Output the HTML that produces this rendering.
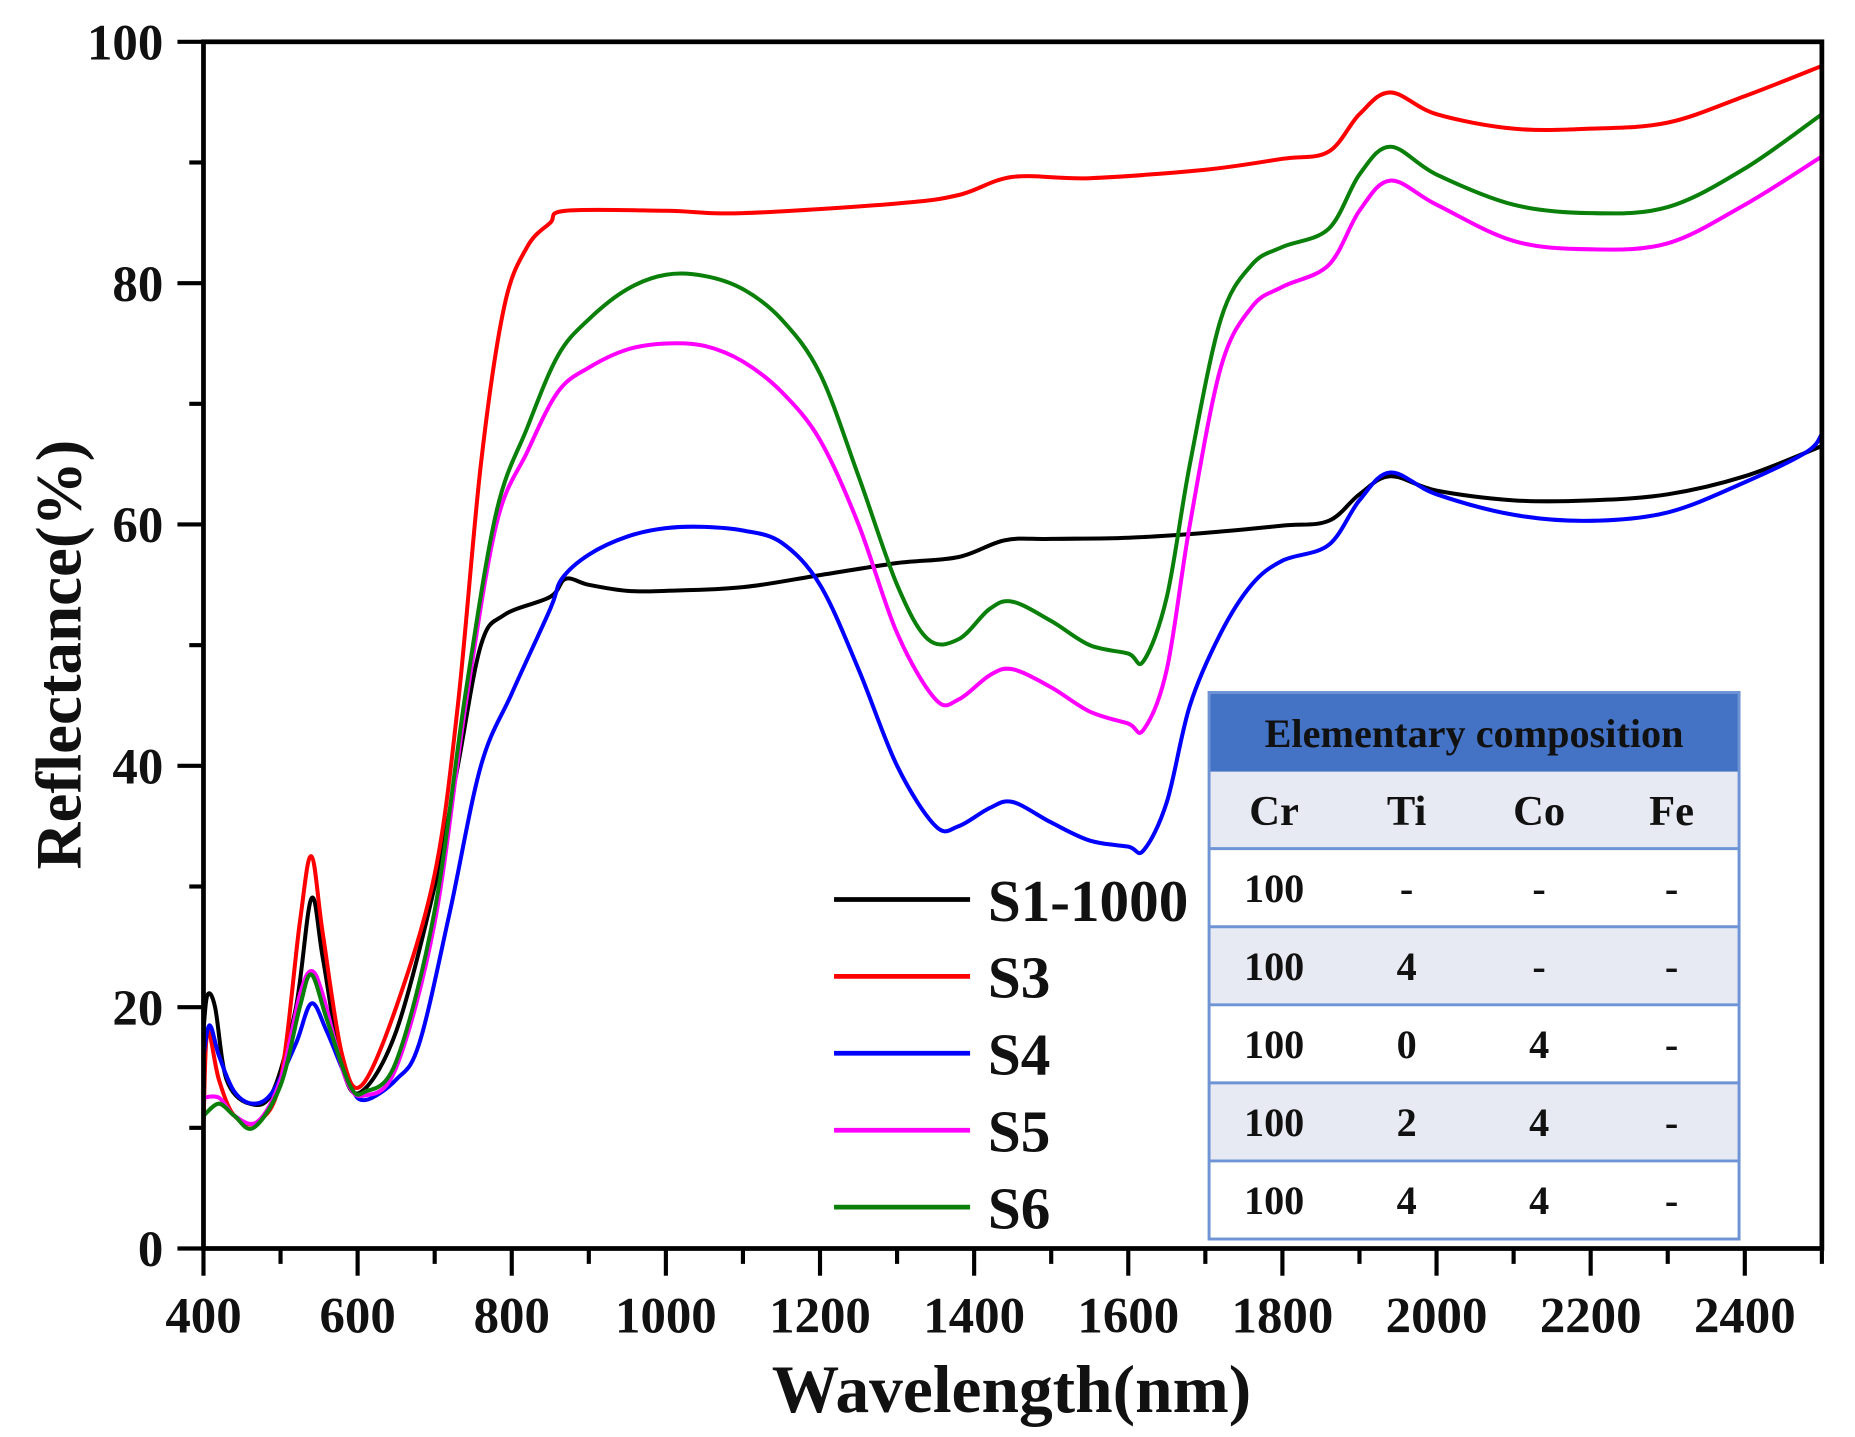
<!DOCTYPE html>
<html><head><meta charset="utf-8"><style>
html,body{margin:0;padding:0;background:#fff;}
svg{display:block;}
text{font-family:"Liberation Serif",serif;font-weight:bold;fill:#111;}
</style></head><body>
<svg id="s" width="1855" height="1437" viewBox="0 0 1568 1214" xmlns="http://www.w3.org/2000/svg">
<rect x="0" y="0" width="1568" height="1214" fill="#fff"/>
<g id="curves" fill="none" stroke-width="3.4" stroke-linejoin="round"></g>
<g>
<rect x="1022" y="585" width="448" height="67" fill="#4472c4"/>
<rect x="1022" y="652" width="448" height="65" fill="#e8eaf3"/>
<rect x="1022" y="717" width="448" height="66" fill="#fff"/>
<rect x="1022" y="783" width="448" height="66" fill="#e8eaf3"/>
<rect x="1022" y="849" width="448" height="66" fill="#fff"/>
<rect x="1022" y="915" width="448" height="66" fill="#e8eaf3"/>
<rect x="1022" y="981" width="448" height="66" fill="#fff"/>
<g stroke="#6f94d6" stroke-width="2.5" fill="none">
<rect x="1022" y="585" width="448" height="462"/>
<line x1="1022" y1="717" x2="1470" y2="717"/>
<line x1="1022" y1="783" x2="1470" y2="783"/>
<line x1="1022" y1="849" x2="1470" y2="849"/>
<line x1="1022" y1="915" x2="1470" y2="915"/>
<line x1="1022" y1="981" x2="1470" y2="981"/>
</g>
<text x="1246" y="631" font-size="34" text-anchor="middle">Elementary composition</text>
<g font-size="36" text-anchor="middle">
<text x="1077" y="697">Cr</text><text x="1189" y="697">Ti</text><text x="1301" y="697">Co</text><text x="1413" y="697">Fe</text>
</g>
<g font-size="34" text-anchor="middle">
<text x="1077" y="762">100</text><text x="1189" y="762">-</text><text x="1301" y="762">-</text><text x="1413" y="762">-</text>
<text x="1077" y="828">100</text><text x="1189" y="828">4</text><text x="1301" y="828">-</text><text x="1413" y="828">-</text>
<text x="1077" y="894">100</text><text x="1189" y="894">0</text><text x="1301" y="894">4</text><text x="1413" y="894">-</text>
<text x="1077" y="960">100</text><text x="1189" y="960">2</text><text x="1301" y="960">4</text><text x="1413" y="960">-</text>
<text x="1077" y="1026">100</text><text x="1189" y="1026">4</text><text x="1301" y="1026">4</text><text x="1413" y="1026">-</text>
</g>
</g>
<g stroke-width="4">
<line x1="705" y1="760" x2="820" y2="760" stroke="#000"/>
<line x1="705" y1="825" x2="820" y2="825" stroke="#f00"/>
<line x1="705" y1="890" x2="820" y2="890" stroke="#00f"/>
<line x1="705" y1="955" x2="820" y2="955" stroke="#f0f"/>
<line x1="705" y1="1020" x2="820" y2="1020" stroke="#0a800a"/>
</g>
<g font-size="50">
<text x="835" y="778">S1-1000</text>
<text x="835" y="843">S3</text>
<text x="835" y="908">S4</text>
<text x="835" y="973">S5</text>
<text x="835" y="1038">S6</text>
</g>
<g stroke="#000" stroke-width="4" fill="none">
<rect x="172" y="35" width="1368" height="1020"/>
</g>
<g id="ticks" stroke="#000" stroke-width="3.5"></g>
<g font-size="43" text-anchor="end" id="ylab"></g>
<g font-size="43" text-anchor="middle" id="xlab"></g>
<text x="855" y="1193" font-size="57" text-anchor="middle">Wavelength(nm)</text>
<text transform="translate(68,553) rotate(-90)" font-size="55" text-anchor="middle">Reflectance(%)</text>
</svg>
<script>
const X=v=>172+(v-400)*1368/2100, Y=v=>1055-v*10.2;
const NS="http://www.w3.org/2000/svg";
function el(p,t,a,txt){const e=document.createElementNS(NS,t);for(const k in a)e.setAttribute(k,a[k]);if(txt!=null)e.textContent=txt;p.appendChild(e);return e;}
const tk=document.getElementById('ticks');
for(let v=400;v<=2500;v+=100){const x=X(v);el(tk,'line',{x1:x,y1:1055,x2:x,y2:v%200==0?1078:1068});}
for(let v=0;v<=100;v+=10){const y=Y(v);el(tk,'line',{x1:172,y1:y,x2:v%20==0?150:160,y2:y});}
const yl=document.getElementById('ylab');
for(let v=0;v<=100;v+=20)el(yl,'text',{x:138,y:Y(v)+15},v);
const xl=document.getElementById('xlab');
for(let v=400;v<=2400;v+=200)el(xl,'text',{x:X(v),y:1126},v);
const D={
"#000":[[400,18],[405,21],[415,20],[430,14],[460,12],[490,13],[520,20],[540,29],[555,24],[580,15],[605,13],[650,18],[700,30],[730,40],[760,50],[790,52.5],[850,54],[870,55.5],[900,55],[950,54.5],[1000,54.5],[1100,54.8],[1200,55.8],[1300,56.8],[1380,57.3],[1440,58.7],[1500,58.8],[1600,58.9],[1700,59.3],[1800,59.9],[1860,60.3],[1900,62.5],[1940,64],[2000,62.8],[2100,62],[2200,62],[2300,62.5],[2400,64],[2500,66.5]],
"#f00":[[400,10],[405,18],[420,14],[440,11],[470,10.5],[500,14],[525,27],[540,32.5],[555,26],[580,16],[605,13.5],[650,20],[700,31],[730,45],[760,65],[790,78],[820,83],[850,85],[870,86],[1000,86],[1100,85.8],[1300,86.6],[1380,87.3],[1450,88.8],[1550,88.7],[1700,89.4],[1800,90.3],[1860,90.9],[1900,94],[1940,95.8],[2000,94],[2100,92.8],[2200,92.8],[2300,93.3],[2400,95.5],[2500,98]],
"#00f":[[400,16],[408,18.5],[420,16],[440,13],[465,12],[490,13],[520,17],[540,20.3],[560,18],[590,13.5],[610,12.3],[650,14],[680,17],[720,28],[760,40],[800,46],[850,53],[865,55.5],[900,57.5],[950,59],[1000,59.7],[1050,59.8],[1100,59.5],[1150,58.5],[1200,55],[1250,48],[1300,40],[1350,35],[1380,35],[1420,36.5],[1450,37],[1500,35.3],[1550,33.8],[1600,33.3],[1620,33],[1650,37],[1680,45],[1720,51],[1760,55],[1800,57],[1860,58.3],[1900,62],[1940,64.3],[2000,62.5],[2100,60.8],[2200,60.3],[2300,61],[2400,63.5],[2480,66],[2500,67.5]],
"#f0f":[[400,12.5],[420,12.5],[440,11],[470,10.5],[500,14],[525,21],[540,23],[555,21],[585,14],[610,12.7],[650,15],[700,27],[740,45],[780,60],[820,66],[860,71],[900,73],[950,74.5],[1000,75],[1050,74.8],[1100,73.5],[1150,71],[1200,67],[1250,60],[1300,51],[1350,45.5],[1380,45.5],[1420,47.5],[1450,48],[1500,46.5],[1550,44.5],[1600,43.5],[1620,43],[1650,48],[1680,60],[1720,73],[1760,78],[1800,79.7],[1860,81.5],[1900,86],[1940,88.5],[2000,86.5],[2100,83.5],[2200,82.8],[2300,83.3],[2400,86.5],[2500,90.5]],
"#0a800a":[[400,11],[420,12],[440,11],[465,10],[500,13.5],[525,20],[540,22.7],[560,19],[590,13.5],[610,13],[650,15.5],[700,28],[740,46],[780,61],[820,68],[860,74],[900,77],[950,79.5],[1000,80.7],[1050,80.6],[1100,79.5],[1150,77],[1200,72.5],[1250,64],[1300,55],[1340,50.5],[1380,50.5],[1420,53],[1450,53.6],[1500,52],[1550,50],[1600,49.3],[1620,48.7],[1650,54],[1680,65],[1720,77],[1760,81.5],[1800,83],[1860,84.5],[1900,89],[1940,91.3],[2000,89],[2100,86.5],[2200,85.8],[2300,86.3],[2400,89.5],[2500,94]]};
const g=document.getElementById('curves');
for(const c in D){const p=D[c].map(q=>[X(q[0]),Y(q[1])]);let d="M"+p[0][0].toFixed(1)+","+p[0][1].toFixed(1);
for(let i=0;i<p.length-1;i++){const a=p[Math.max(0,i-1)],b=p[i],e=p[i+1],f=p[Math.min(p.length-1,i+2)];
const c1=[b[0]+(e[0]-a[0])/6,b[1]+(e[1]-a[1])/6],c2=[e[0]-(f[0]-b[0])/6,e[1]-(f[1]-b[1])/6];
d+=" C"+c1.map(v=>v.toFixed(1))+" "+c2.map(v=>v.toFixed(1))+" "+e.map(v=>v.toFixed(1));}
el(g,'path',{d:d,stroke:c});}
</script>
</body></html>
